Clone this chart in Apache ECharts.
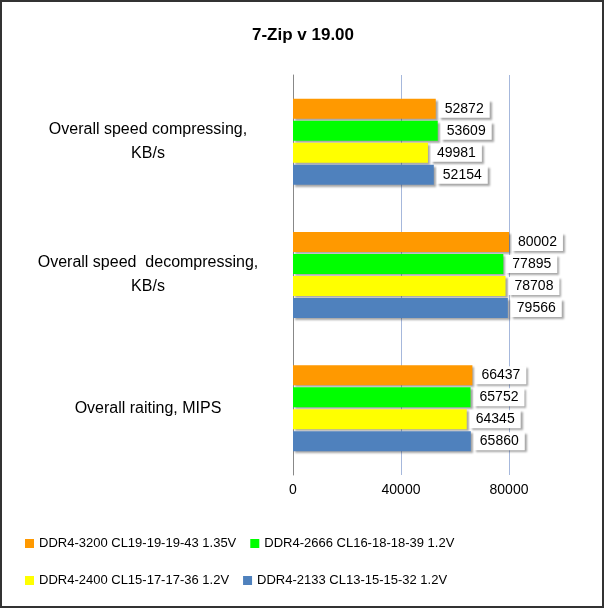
<!DOCTYPE html>
<html><head><meta charset="utf-8">
<script src="https://cdn.jsdelivr.net/npm/echarts@6/dist/echarts.min.js"></script>
<style>html,body{margin:0;background:#fff}#c{width:606px;height:610px}</style>
</head><body><div id="c"></div>
<script>
var categories = ['Overall speed compressing,\nKB/s', 'Overall speed  decompressing,\nKB/s', 'Overall raiting, MIPS'];
var seriesNames = ['DDR4-3200 CL19-19-19-43 1.35V', 'DDR4-2666 CL16-18-18-39 1.2V', 'DDR4-2400 CL15-17-17-36 1.2V', 'DDR4-2133 CL13-15-15-32 1.2V'];
var colors = ['#ff9900', '#00ff00', '#ffff00', '#4f81bd'];
var values = [
  [52872, 80002, 66437],
  [53609, 77895, 65752],
  [49981, 78708, 64345],
  [52154, 79566, 65860]
];

var chart = echarts.init(document.getElementById('c'));
var series = [];
for (var i = 0; i < values.length; i++) {
  series.push({
    name: seriesNames[i], type: 'bar', data: values[i], barWidth: 20, barGap: '10%',
    itemStyle: { color: colors[i], shadowColor: 'rgba(0,0,0,0.35)', shadowOffsetX: 2, shadowOffsetY: 2, shadowBlur: 2 },
    label: { show: true, position: 'right', distance: 3, color: '#000', fontSize: 14, fontFamily: 'Liberation Sans',
      backgroundColor: '#fff', padding: [2, 6], shadowColor: 'rgba(0,0,0,0.35)', shadowOffsetX: 2, shadowOffsetY: 2, shadowBlur: 2 }
  });
}
var legendBase = { left: 20, itemGap: 14, itemWidth: 9, itemHeight: 9, icon: 'rect',
  textStyle: { fontSize: 13, color: '#000', fontFamily: 'Liberation Sans' } };
chart.setOption({
  backgroundColor: '#fff',
  graphic: [{ type: 'rect', shape: { x: 1, y: 1, width: 602, height: 606 }, style: { fill: 'none', stroke: '#333', lineWidth: 2 } }],
  title: { text: '7-Zip v 19.00', left: 'center', top: 22, textStyle: { fontSize: 17, fontWeight: 'bold', color: '#000', fontFamily: 'Liberation Sans' } },
  legend: [
    Object.assign({ top: 532, data: seriesNames.slice(0, 2) }, legendBase),
    Object.assign({ top: 569, data: seriesNames.slice(2) }, legendBase)
  ],
  grid: { left: 293, right: 16, top: 75, bottom: 135, containLabel: false },
  xAxis: { type: 'value', min: 0, max: 110000, interval: 40000,
    axisLabel: { fontSize: 14, color: '#000', showMaxLabel: false, fontFamily: 'Liberation Sans', formatter: function (v) { return String(v); } },
    splitLine: { showMaxLine: false, lineStyle: { color: '#a6b8dc' } }, axisLine: { show: false }, axisTick: { show: false } },
  yAxis: { type: 'category', data: categories, inverse: true,
    axisLabel: { fontSize: 16, color: '#000', align: 'center', margin: 145, lineHeight: 24, fontFamily: 'Liberation Sans' },
    axisLine: { lineStyle: { color: '#888' } }, axisTick: { show: false } },
  series: series
});
</script></body></html>
